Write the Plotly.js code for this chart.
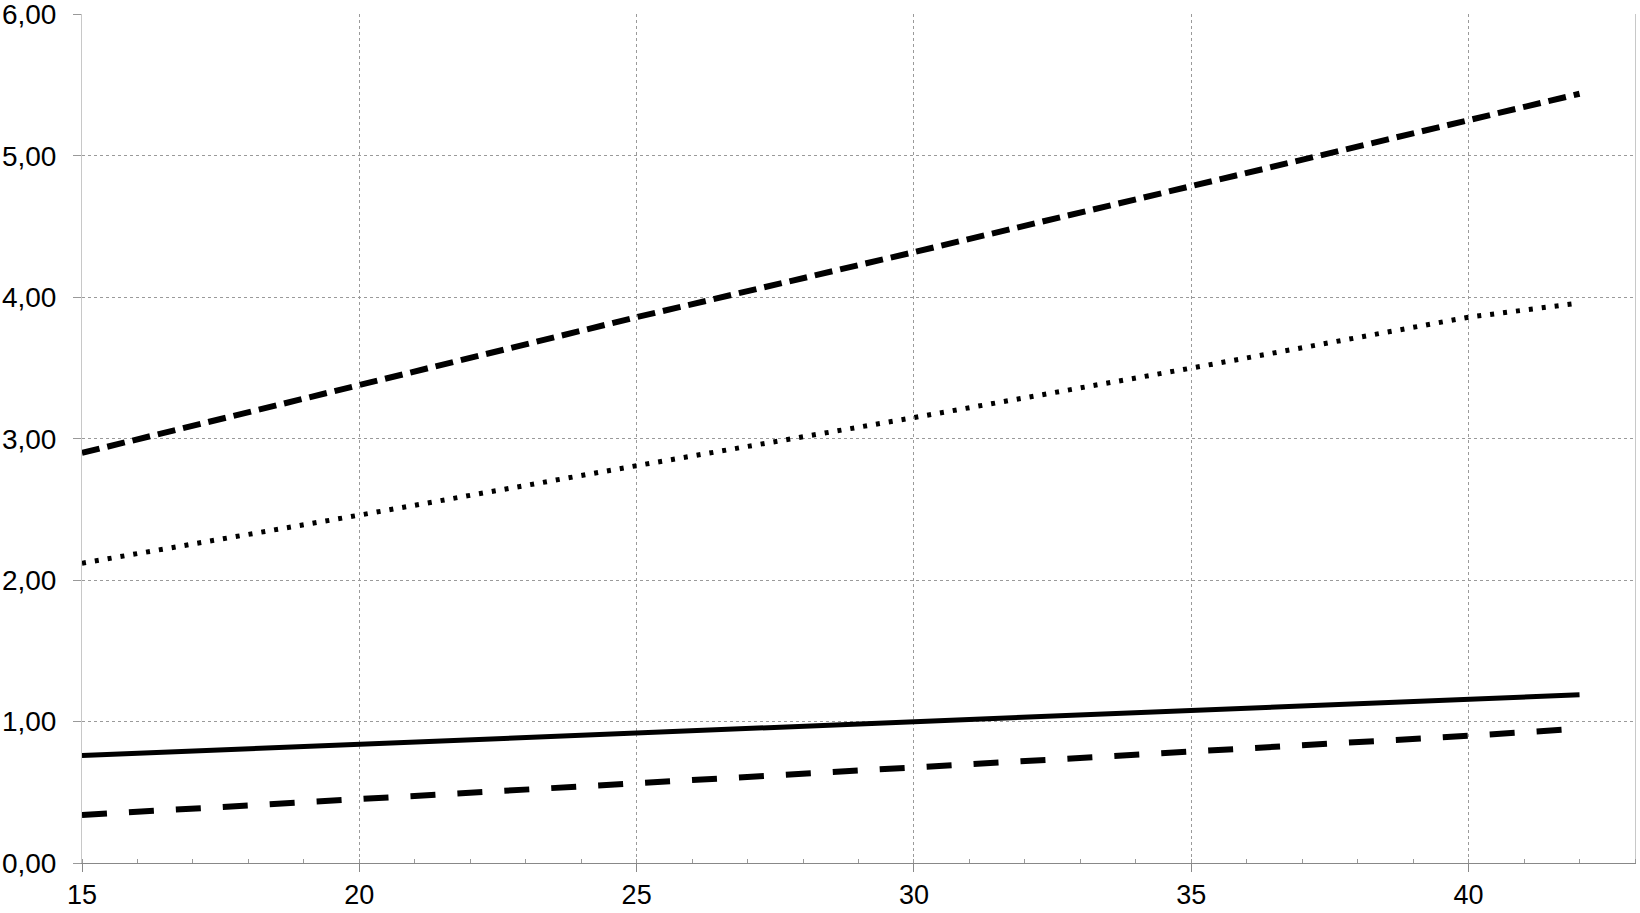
<!DOCTYPE html>
<html>
<head>
<meta charset="utf-8">
<script src="https://cdn.plot.ly/plotly-3.0.1.min.js"></script>
<style>html,body{margin:0;padding:0;background:#fff;}#chart{width:1640px;height:913px;}</style>
</head>
<body>
<div id="chart"></div>
<script>
const xValues = [15, 20, 25, 30, 35, 40, 42];
const seriesUpperDashed = [2.90, 3.38, 3.86, 4.32, 4.79, 5.26, 5.44];
const seriesDotted = [2.12, 2.46, 2.81, 3.15, 3.50, 3.86, 3.96];
const seriesSolid = [0.76, 0.84, 0.92, 1.00, 1.08, 1.16, 1.19];
const seriesLowerDashed = [0.34, 0.45, 0.56, 0.67, 0.79, 0.90, 0.95];
const yTickVals = [0, 1, 2, 3, 4, 5, 6];
const yTickText = ["0,00", "1,00", "2,00", "3,00", "4,00", "5,00", "6,00"];
const xTickVals = [15, 20, 25, 30, 35, 40];

const traces = [
  {x: xValues, y: seriesUpperDashed, mode: 'lines', line: {color: '#000', width: 6, dash: '18px,8px'}},
  {x: xValues, y: seriesDotted, mode: 'lines', line: {color: '#000', width: 5, dash: '4px,9px'}},
  {x: xValues, y: seriesSolid, mode: 'lines', line: {color: '#000', width: 5}},
  {x: xValues, y: seriesLowerDashed, mode: 'lines', line: {color: '#000', width: 6, dash: '25px,22px'}}
];

const layout = {
  width: 1640, height: 913,
  margin: {l: 82, r: 5, t: 14, b: 50},
  paper_bgcolor: '#fff', plot_bgcolor: '#fff',
  showlegend: false,
  font: {family: 'Liberation Sans, Arial, sans-serif', color: '#000', size: 28},
  xaxis: {
    range: [15, 43], tickvals: xTickVals, ticktext: xTickVals.map(String),
    showgrid: true, gridcolor: '#9a9a9a', griddash: 'dot', gridwidth: 1,
    ticks: 'outside', ticklen: 8, tickcolor: '#888',
    minor: {dtick: 1, ticks: 'inside', ticklen: 4, tickcolor: '#999', showgrid: false},
    showline: true, linecolor: '#888', linewidth: 1,
    zeroline: false, tickfont: {size: 27}, ticklabelstandoff: 0
  },
  yaxis: {
    range: [0, 6.004], tickvals: yTickVals, ticktext: yTickText,
    showgrid: true, gridcolor: '#9a9a9a', griddash: 'dot', gridwidth: 1,
    ticks: 'outside', ticklen: 8, tickcolor: '#999',
    showline: true, mirror: true, linecolor: '#c8c8c8', linewidth: 1,
    zeroline: false, tickfont: {size: 28}, ticklabelstandoff: 11,
    ticklabeloverflow: 'allow'
  }
};

Plotly.newPlot('chart', traces, layout, {displayModeBar: false, staticPlot: true});
</script>
</body>
</html>
